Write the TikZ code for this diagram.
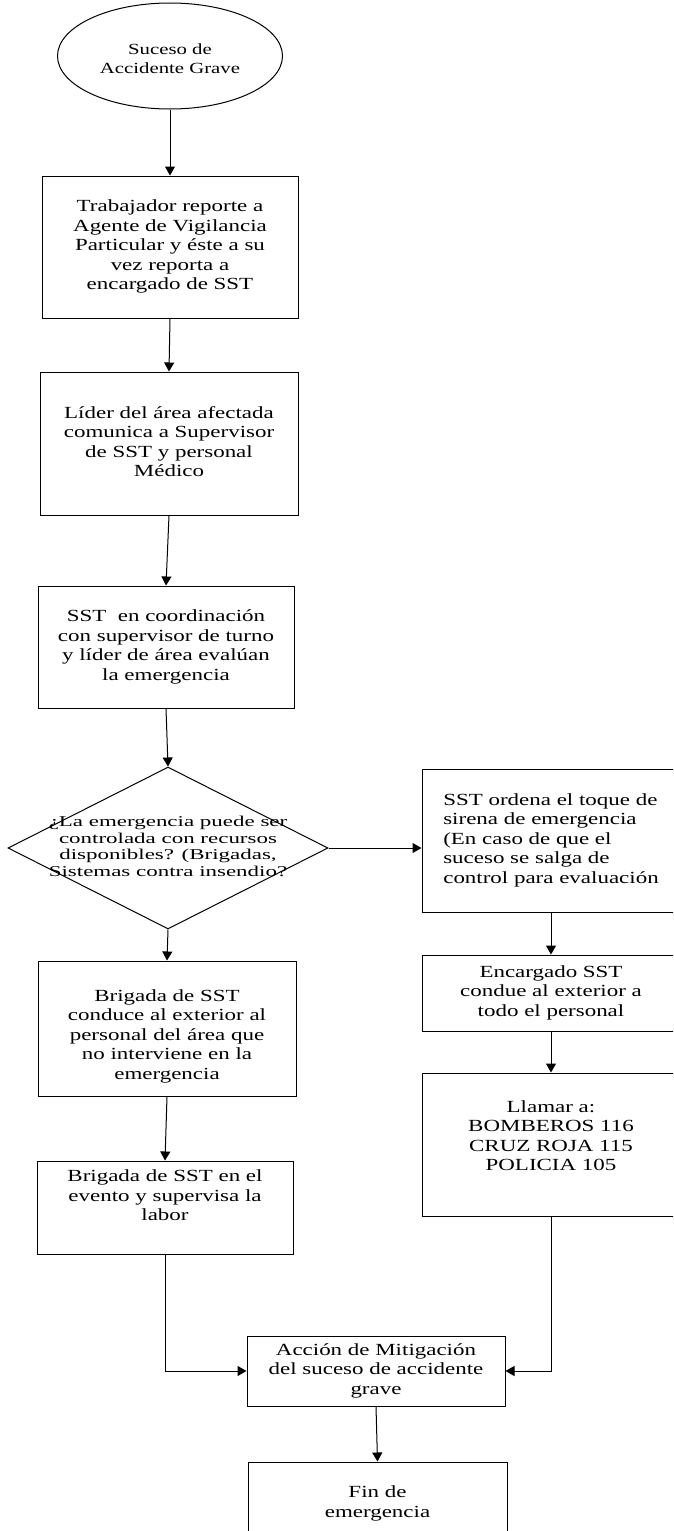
\documentclass[tikz,border=0pt]{standalone}
\usepackage{fontspec}
\setmainfont{Liberation Serif}
\usetikzlibrary{arrows.meta,shapes.geometric}
\usepackage{graphicx}
% stretched multi-line label: [x-stretch]{column spec}{lines}
\newcommand\flowtxt[3][1.35]{\scalebox{#1}[1]{\begin{tabular}{@{}#2@{}}#3\end{tabular}}}
\tikzset{
  box/.style={draw, line width=1pt, rectangle, inner sep=0pt,
              font=\fontsize{17}{19.5}\selectfont},
  arr/.style={line width=1pt, -{Triangle[length=9pt,width=10pt]}}
}
\begin{document}
\begin{tikzpicture}[x=1pt,y=-1pt]
\useasboundingbox (0,0) rectangle (673,1531);
\clip (0,0) rectangle (673,1531);

% start event
\node[draw, line width=1pt, ellipse, inner sep=0pt, minimum width=225, minimum height=106,
      font=\fontsize{15.5}{19}\selectfont] (e) at (170,56)
  {\raisebox{-4pt}[\height][\depth]{\flowtxt[1.34]{c}{Suceso de\\Accidente Grave}}};

% main column
\node[box, minimum width=256, minimum height=142] (b1) at (170,247)
  {\flowtxt{c}{Trabajador reporte a\\Agente de Vigilancia\\Particular y éste a su\\vez reporta a\\encargado de SST}};
\node[box, minimum width=258, minimum height=143] (b2) at (169,443.5)
  {\flowtxt{c}{Líder del área afectada\\comunica a Supervisor\\de SST y personal\\Médico}};
\node[box, minimum width=256, minimum height=122] (b3) at (166,647)
  {\flowtxt{c}{SST\ \ en coordinación\\con supervisor de turno\\y líder de área evalúan\\la emergencia}};

% decision
\node[draw, line width=1pt, diamond, inner sep=0pt, minimum width=320, minimum height=162] (d) at (168,848) {};
\node[font=\fontsize{15}{16.7}\selectfont, inner sep=0pt] (dq) at (d.center)
  {\flowtxt[1.53]{c}{¿La emergencia puede ser\\controlada con recursos\\disponibles? (Brigadas,\\Sistemas contra insendio?}};

% right branch
\node[box, minimum width=258, minimum height=143] (r1) at (551,840.5)
  {\flowtxt{l}{SST ordena el toque de\\sirena de emergencia\\(En caso de que el\\suceso se salga de\\control para evaluación}};
\node[box, minimum width=258, minimum height=76] (r2) at (551,993)
  {\flowtxt{c}{Encargado SST\\condue al exterior a\\todo el personal}};
\node[box, minimum width=258, minimum height=143] (r3) at (551,1144.5)
  {\raisebox{7pt}[\height][\depth]{\flowtxt{c}{Llamar a:\\BOMBEROS 116\\CRUZ ROJA 115\\POLICIA 105}}};

% left branch
\node[box, minimum width=258, minimum height=135] (l1) at (167,1028.5)
  {\raisebox{-8pt}[\height][\depth]{\flowtxt{c}{Brigada de SST\\conduce al exterior al\\personal del área que\\no interviene en la\\emergencia}}};
\node[box, minimum width=256, minimum height=93] (l2) at (165,1207.5)
  {\raisebox{10pt}[\height][\depth]{\flowtxt{c}{Brigada de SST en el\\evento y supervisa la\\labor}}};

% closing steps
\node[box, minimum width=258, minimum height=70] (mit) at (376,1371)
  {\flowtxt{c}{Acción de Mitigación\\del suceso de accidente\\grave}};
\node[box, minimum width=259, minimum height=83] (fin) at (377.5,1503.5)
  {\flowtxt{c}{Fin de\\emergencia}};

% connectors
\draw[arr] (e.south) -- (b1.north);
\draw[arr] (b1.south) -- (b2.north);
\draw[arr] (b2.south) -- (b3.north);
\draw[arr] (b3.south) -- (d.north);
\draw[arr] (d.east) -- (d.east -| r1.west);
\draw[arr] (d.south) -- (l1.north);
\draw[arr] (r1.south) -- (r2.north);
\draw[arr] (r2.south) -- (r3.north);
\draw[arr] (l1.south) -- (l2.north);
\draw[arr] (r3.south) |- (mit.east);
\draw[arr] (l2.south) |- (mit.west);
\draw[arr] (mit.south) -- (fin.north);
\end{tikzpicture}
\end{document}
